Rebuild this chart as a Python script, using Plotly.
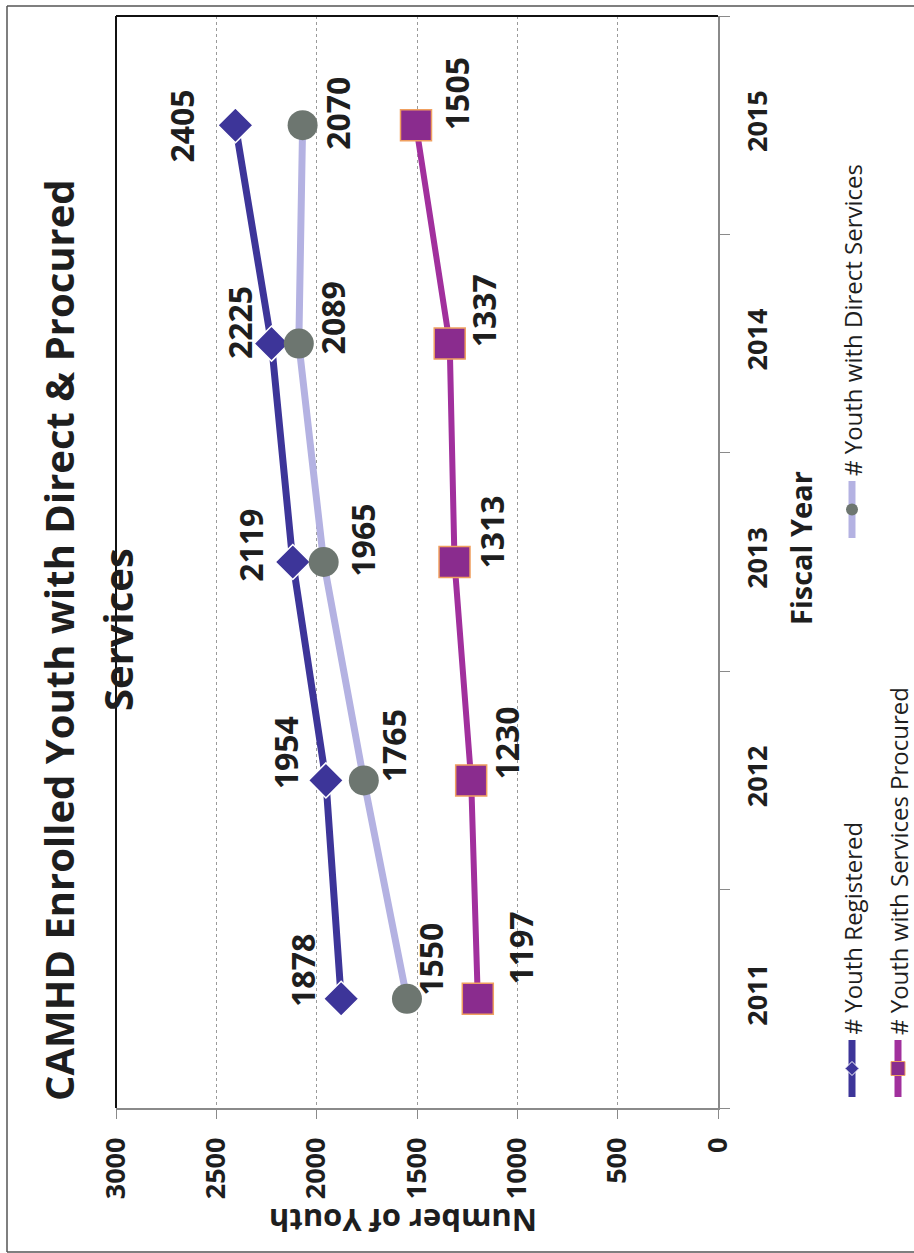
import plotly.graph_objects as go

# ---------------- data ----------------
years = [2011, 2012, 2013, 2014, 2015]
year_labels = ["2011", "2012", "2013", "2014", "2015"]
registered = [1878, 1954, 2119, 2225, 2405]
direct_services = [1550, 1765, 1965, 2089, 2070]
services_procured = [1197, 1230, 1313, 1337, 1505]
value_ticks = [0, 500, 1000, 1500, 2000, 2500, 3000]
value_tick_labels = ["0", "500", "1000", "1500", "2000", "2500", "3000"]

series_names = ["# Youth Registered", "# Youth with Direct Services",
                "# Youth with Services Procured"]
title_line1 = "CAMHD Enrolled Youth with Direct & Procured"
title_line2 = "Services"
x_title = "Fiscal Year"
y_title = "Number of Youth"

# label offsets (pixels, image frame: +dx right, +dy down)
reg_dx = [-38, -40, -43, -32, -54]
reg_dy = [-28, -28, -17, -21, 1]
dir_dx = [24, 30, 38, 34, 35]
dir_dy = [-40, -35, -22, -26, -12]
proc_dx = [43, 35, 36, 34, 40]
proc_dy = [-51, -37, -30, -33, -31]

# ---------------- style ----------------
W, H = 914, 1253
PL, PR, PT, PB = 116, 718, 16, 1108
FONT = "Open Sans"
TXT = "#1e1e1e"
REG = "#3D3599"
DIR_LINE = "#B4B2E2"
DIR_MARK = "#6D7670"
PROC_LINE = "#A1309D"
PROC_MARK = "#8A2C8E"
PROC_EDGE = "#F0A060"
AXIS = "#8a8a8a"


def px(x):
    return (x - PL) / (PR - PL)


def py(y):
    return (PB - y) / (PB - PT)


fig = go.Figure()
fig.add_trace(go.Scatter(
    x=registered, y=years, mode="lines+markers", name=series_names[0],
    line=dict(color=REG, width=7),
    marker=dict(symbol="diamond", size=27, color=REG,
                line=dict(color="white", width=1.5))))
fig.add_trace(go.Scatter(
    x=direct_services, y=years, mode="lines+markers", name=series_names[1],
    line=dict(color=DIR_LINE, width=7),
    marker=dict(symbol="circle", size=30, color=DIR_MARK,
                line=dict(width=0))))
fig.add_trace(go.Scatter(
    x=services_procured, y=years, mode="lines+markers", name=series_names[2],
    line=dict(color=PROC_LINE, width=6),
    marker=dict(symbol="square", size=31, color=PROC_MARK,
                line=dict(color=PROC_EDGE, width=1.5))))

annotations = []
for vals, dxs, dys in [(registered, reg_dx, reg_dy),
                       (direct_services, dir_dx, dir_dy),
                       (services_procured, proc_dx, proc_dy)]:
    for v, yr, dx, dy in zip(vals, years, dxs, dys):
        annotations.append(dict(
            x=v, y=yr, xref="x", yref="y", text=str(v), showarrow=False,
            textangle=-90, xshift=dx, yshift=-dy,
            xanchor="center", yanchor="middle",
            font=dict(family=FONT, size=32, weight="bold", color=TXT)))

# titles
annotations.append(dict(x=px(58), y=py(640), xref="paper", yref="paper",
                        text=title_line1, showarrow=False, textangle=-90,
                        xanchor="center", yanchor="middle",
                        font=dict(family=FONT, size=40, weight="bold", color=TXT)))
annotations.append(dict(x=px(117), y=py(630), xref="paper", yref="paper",
                        text=title_line2, showarrow=False, textangle=-90,
                        xanchor="center", yanchor="middle",
                        font=dict(family=FONT, size=40, weight="bold", color=TXT)))
annotations.append(dict(x=px(800), y=py(548), xref="paper", yref="paper",
                        text=x_title, showarrow=False, textangle=-90,
                        xanchor="center", yanchor="middle",
                        font=dict(family=FONT, size=29, weight="bold", color=TXT)))
annotations.append(dict(x=px(403), y=py(1221), xref="paper", yref="paper",
                        text=y_title, showarrow=False, textangle=180,
                        xanchor="center", yanchor="middle",
                        font=dict(family=FONT, size=31, weight="bold", color=TXT)))

shapes = []
# outer frame (left, top, bottom edges of the scanned page frame)
for (xa, ya, xb, yb) in [(7, 6, 7, 1252), (7, 6, 914, 6), (7, 1252, 914, 1252)]:
    shapes.append(dict(type="line", xref="paper", yref="paper",
                       x0=px(xa), x1=px(xb), y0=py(ya), y1=py(yb),
                       line=dict(color="#555555", width=1.5)))
# plot area black borders (left & top)
shapes.append(dict(type="line", xref="paper", yref="paper",
                   x0=0, x1=0, y0=0, y1=1, line=dict(color="#111111", width=2)))
shapes.append(dict(type="line", xref="paper", yref="paper",
                   x0=0, x1=1, y0=1, y1=1, line=dict(color="#111111", width=2)))

# custom rotated legend
leg = [
    (series_names[0], 852, 1097, REG, "diamond", REG, "white"),
    (series_names[1], 852, 538, DIR_LINE, "circle", DIR_MARK, None),
    (series_names[2], 898, 1097, PROC_LINE, "square", PROC_MARK, PROC_EDGE),
]
for name, cx, ybot, lc, sym, mc, ec in leg:
    ytop = ybot - 57
    ymid = (ybot + ytop) / 2
    shapes.append(dict(type="line", xref="paper", yref="paper",
                       x0=px(cx), x1=px(cx), y0=py(ybot), y1=py(ytop),
                       line=dict(color=lc, width=7)))
    if sym == "diamond":
        r = 7
        path = (f"M {px(cx - r)} {py(ymid)} L {px(cx)} {py(ymid - r)} "
                f"L {px(cx + r)} {py(ymid)} L {px(cx)} {py(ymid + r)} Z")
        shapes.append(dict(type="path", xref="paper", yref="paper", path=path,
                           fillcolor=mc, line=dict(color=ec, width=1)))
    elif sym == "circle":
        r = 6
        shapes.append(dict(type="circle", xref="paper", yref="paper",
                           x0=px(cx - r), x1=px(cx + r), y0=py(ymid + r), y1=py(ymid - r),
                           fillcolor=mc, line=dict(width=0)))
    else:
        r = 7
        shapes.append(dict(type="rect", xref="paper", yref="paper",
                           x0=px(cx - r), x1=px(cx + r), y0=py(ymid + r), y1=py(ymid - r),
                           fillcolor=mc, line=dict(color=ec, width=1)))
    annotations.append(dict(x=px(cx), y=py(ytop - 3), xref="paper", yref="paper",
                            text=name, showarrow=False, textangle=-90,
                            xanchor="center", yanchor="bottom",
                            font=dict(family=FONT, size=24, color=TXT)))

fig.update_layout(
    width=W, height=H,
    margin=dict(l=PL, r=W - PR, t=PT, b=H - PB, autoexpand=False),
    paper_bgcolor="white", plot_bgcolor="white",
    showlegend=False,
    annotations=annotations, shapes=shapes,
    xaxis=dict(range=[3000, 0], tickmode="array", tickvals=value_ticks,
               ticktext=value_tick_labels, tickangle=-90,
               tickfont=dict(family=FONT, size=27, weight="bold", color=TXT),
               showgrid=True, gridcolor="#9a9a9a", griddash="dot", gridwidth=1,
               showline=True, linecolor=AXIS, linewidth=1.5,
               ticks="outside", ticklen=9, tickcolor=AXIS, tickwidth=1,
               zeroline=False, ticklabelstandoff=8),
    yaxis=dict(range=[2010.5, 2015.5], tickmode="array", tickvals=years,
               ticktext=year_labels, side="right", tickangle=-90,
               tickfont=dict(family=FONT, size=27, weight="bold", color=TXT),
               ticks="", showgrid=False, showline=True, linecolor=AXIS,
               linewidth=1.5, zeroline=False, ticklabelstandoff=15,
               minor=dict(tickmode="array", tickvals=[2010.5, 2011.5, 2012.5, 2013.5, 2014.5, 2015.5],
                          ticks="outside", ticklen=10, tickcolor=AXIS,
                          tickwidth=1, showgrid=False)),
)

fig.write_html("out.html", config={"displayModeBar": False},
               post_script="document.body.style.margin='0px';document.body.style.overflow='hidden';")
